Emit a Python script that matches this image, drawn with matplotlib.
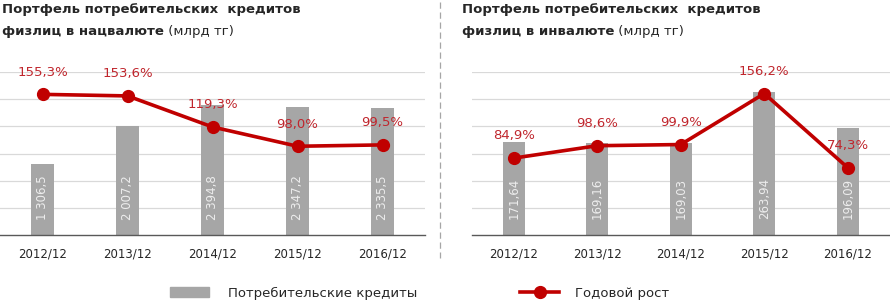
import numpy as np
import matplotlib.pyplot as plt
from matplotlib.lines import Line2D
from matplotlib.patches import Patch

years = ['2012/12', '2013/12', '2014/12', '2015/12', '2016/12']

kzt_loans = [1306.5, 2007.2, 2394.8, 2347.2, 2335.5]
kzt_labels = ['1 306,5', '2 007,2', '2 394,8', '2 347,2', '2 335,5']
kzt_growth = [155.3, 153.6, 119.3, 98.0, 99.5]

fx_loans = [171.64, 169.16, 169.03, 263.94, 196.09]
fx_labels = ['171,64', '169,16', '169,03', '263,94', '196,09']
fx_growth = [84.9, 98.6, 99.9, 156.2, 74.3]

BAR = '#a6a6a6'
RED = '#c00000'
LBL_RED = '#c0262d'
GRID = '#d9d9d9'

W, H = 890, 301
fig = plt.figure(figsize=(W / 100, H / 100), dpi=100)


def panel(rect, loans, labels, growth, ymax, label_y):
    ax = fig.add_axes(rect)
    x = np.arange(len(years))
    ax.bar(x, loans, width=0.26, color=BAR, zorder=2)
    ax.set_xlim(-0.5, 4.5)
    ax.set_ylim(0, ymax)
    ax.set_yticks(np.linspace(0, ymax, 7)[1:])
    ax.yaxis.grid(True, color=GRID, lw=0.9, zorder=0)
    ax.tick_params(axis='y', length=0, labelleft=False)
    ax.tick_params(axis='x', length=0, pad=9, labelsize=8.5, labelcolor='#262626')
    ax.set_xticks(x)
    ax.set_xticklabels(years)
    for s in ['top', 'right', 'left']:
        ax.spines[s].set_visible(False)
    ax.spines['bottom'].set_color('#595959')
    ax.spines['bottom'].set_linewidth(1.0)
    for xi, lab in zip(x, labels):
        ax.text(xi, label_y, lab, rotation=90, ha='center', va='center',
                color='#ededed', fontsize=8.5, zorder=3)

    ax2 = ax.twinx()
    ax2.set_ylim(0, 180)
    ax2.axis('off')
    ax2.plot(x, growth, color=RED, lw=2.6, marker='o', ms=8.5, zorder=4)
    for xi, g in zip(x, growth):
        ax2.annotate(f'{g:.1f}%'.replace('.', ','), (xi, g), xytext=(0, 16),
                     textcoords='offset points', ha='center', va='center',
                     color=LBL_RED, fontsize=9.5)
    return ax


panel([0.0, 1 - 235 / H, 425 / W, 163 / H], kzt_loans, kzt_labels, kzt_growth, 3000, 680)
panel([472 / W, 1 - 235 / H, 417.5 / W, 163 / H], fx_loans, fx_labels, fx_growth, 300, 68)

# titles: bold part + regular unit
for x0, word in [(2 / W, 'нацвалюте'), (462 / W, 'инвалюте')]:
    fig.text(x0, 1 - 10 / H, 'Портфель потребительских  кредитов', fontsize=9.5,
             fontweight='bold', color='#262626', va='center')
    t = fig.text(x0, 1 - 31 / H, f'физлиц в {word}', fontsize=9.5,
                 fontweight='bold', color='#262626', va='center')
    fig.add_artist(plt.Annotation(' (млрд тг)', xy=(1, 0.5), xycoords=t,
                                  va='center', ha='left', fontsize=9.5, color='#262626'))

# dashed separator
fig.add_artist(Line2D([440 / W, 440 / W], [1 - 2 / H, 1 - 258 / H],
                      color='#a6a6a6', lw=0.9, ls=(0, (5, 3))))

# legend
handles = [Patch(color=BAR), Line2D([], [], color=RED, lw=2.6, marker='o', ms=8.5)]
fig.legend(handles[:1], ['Потребительские кредиты'], loc='center left',
           bbox_to_anchor=(158 / W, 1 - 293 / H), frameon=False, fontsize=9.5,
           handlelength=3.0, handleheight=0.8, handletextpad=1.4, labelcolor='#262626')
fig.legend(handles[1:], ['Годовой рост'], loc='center left',
           bbox_to_anchor=(508 / W, 1 - 293 / H), frameon=False, fontsize=9.5,
           handlelength=3.0, handletextpad=1.2, labelcolor='#262626')

fig.savefig('out.png', dpi=100)
